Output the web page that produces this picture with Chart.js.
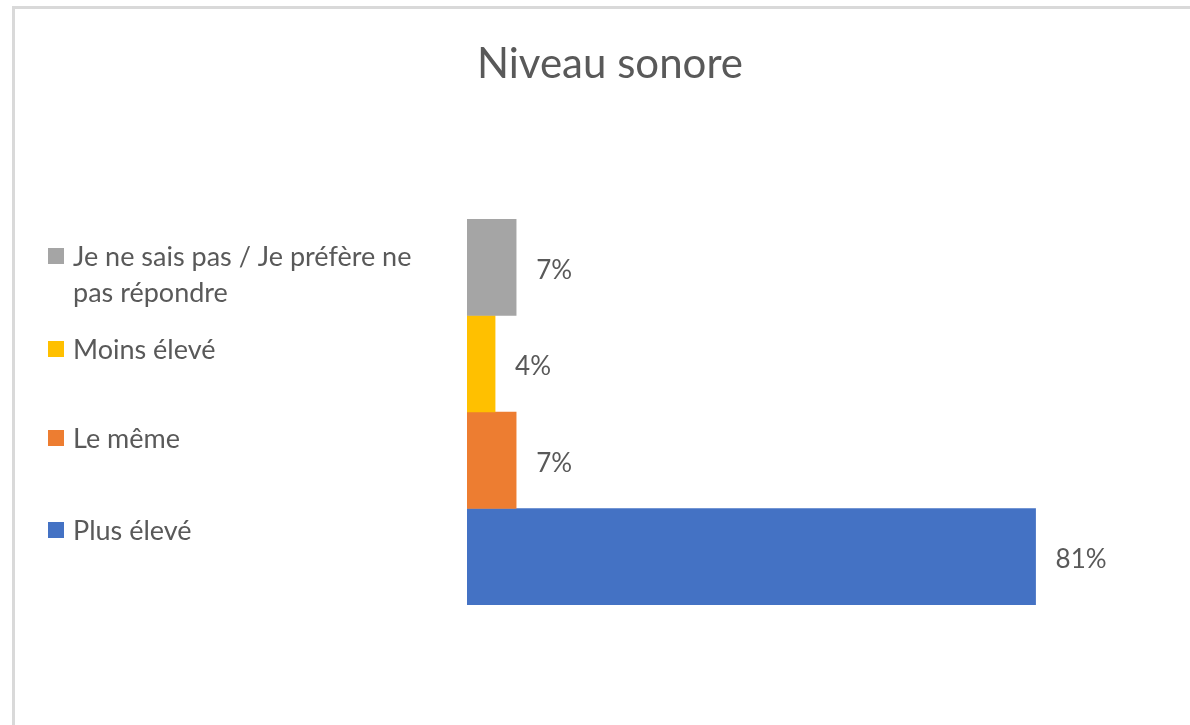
<!DOCTYPE html>
<html>
<head>
<meta charset="utf-8">
<script src="https://cdn.jsdelivr.net/npm/chart.js@4"></script>
<style>
  html, body { margin: 0; padding: 0; background: #fff; overflow: hidden; }
  #wrap { position: absolute; left: 0; top: 0; width: 1190px; height: 725px; }
  #frame { position: absolute; left: 12px; top: 6px; width: 1400px; height: 1000px;
           border-left: 3px solid #d9d9d9; border-top: 3px solid #d9d9d9; box-sizing: border-box; }
  canvas { position: absolute; left: 0; top: 0; }
</style>
</head>
<body>
<div id="wrap">
  <div id="frame"></div>
  <canvas id="c" width="1190" height="725"></canvas>
</div>
<script>
// ---- data ----
const title = "Niveau sonore";
const seriesNames = ["Je ne sais pas / Je préfère ne pas répondre", "Moins élevé", "Le même", "Plus élevé"];
const seriesLines = [["Je ne sais pas / Je préfère ne", "pas répondre"], ["Moins élevé"], ["Le même"], ["Plus élevé"]];
const seriesValues = [7, 4, 7, 81];
const seriesColors = ["#A5A5A5", "#FFC000", "#ED7D31", "#4472C4"];
const categories = [""];

const textColor = "#595959";
const fontFamily = "Lato, 'Open Sans', sans-serif";

const datasets = seriesNames.map((name, i) => ({
  label: name,
  data: [seriesValues[i]],
  backgroundColor: seriesColors[i],
  borderWidth: 0,
  categoryPercentage: 1.0,
  barPercentage: 1.0
}));

// value labels to the right of each bar
const valueLabels = {
  id: 'valueLabels',
  afterDatasetsDraw(chart) {
    const ctx = chart.ctx;
    ctx.save();
    ctx.fillStyle = textColor;
    ctx.font = "26px " + fontFamily;
    ctx.textAlign = "left";
    ctx.textBaseline = "middle";
    chart.data.datasets.forEach((ds, i) => {
      const meta = chart.getDatasetMeta(i);
      meta.data.forEach((bar, j) => {
        ctx.fillText(ds.data[j] + "%", bar.x + 20, bar.y + 3);
      });
    });
    ctx.restore();
  }
};

// legend on the left (Excel style, wrapped first entry)
const legendFirstLineY = [256, 349, 438, 530];
const sideLegend = {
  id: 'sideLegend',
  afterDraw(chart) {
    const ctx = chart.ctx;
    ctx.save();
    ctx.font = "27px " + fontFamily;
    ctx.textAlign = "left";
    ctx.textBaseline = "middle";
    chart.data.datasets.forEach((ds, i) => {
      const y0 = legendFirstLineY[i];
      ctx.fillStyle = ds.backgroundColor;
      ctx.fillRect(48, y0 - 8, 16, 16);
      ctx.fillStyle = textColor;
      seriesLines[i].forEach((line, k) => {
        ctx.fillText(line, 73, y0 + 1 + k * 36);
      });
    });
    ctx.restore();
  }
};

new Chart(document.getElementById('c'), {
  type: 'bar',
  data: { labels: categories, datasets },
  options: {
    indexAxis: 'y',
    responsive: false,
    animation: false,
    layout: { padding: { left: 30, right: 0, top: 0, bottom: 120 } },
    plugins: {
      legend: { display: false },
      tooltip: { enabled: false },
      title: {
        display: true,
        text: title,
        color: textColor,
        font: { family: fontFamily, size: 42, weight: 'normal', lineHeight: 1.2 },
        padding: { top: 39, bottom: 129.6 }
      }
    },
    scales: {
      x: {
        display: false,
        min: 0,
        max: 103
      },
      y: {
        display: true,
        grid: { display: false },
        border: { display: false },
        ticks: { display: false },
        afterFit(scale) { scale.width = 437; }
      }
    }
  },
  plugins: [valueLabels, sideLegend]
});
</script>
</body>
</html>
